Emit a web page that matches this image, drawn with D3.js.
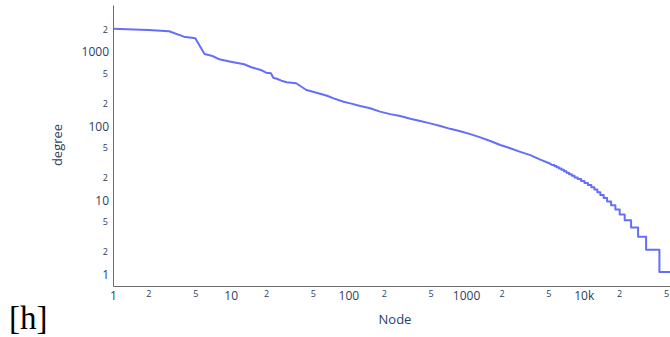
<!DOCTYPE html>
<html>
<head>
<meta charset="utf-8">
<script src="https://cdn.jsdelivr.net/npm/d3@7"></script>
<style>
  html, body { margin: 0; padding: 0; background: #fff; }
  svg { display: block; }
</style>
</head>
<body>
<svg id="chart" width="670" height="337"></svg>
<script>
// ---- data (rank of node, degree) ----
const headRanks   = [1, 2, 3, 4, 5, 6, 7, 8, 10, 13, 15, 18, 20, 22, 23, 25, 27, 30, 36, 44, 50, 66, 75, 91, 104, 126, 153, 186, 227, 276, 336, 408, 496, 604, 734, 893, 1086, 1321, 1607, 1954, 2377, 2891, 3516, 4276, 5200];
const headDegrees = [1940, 1865, 1790, 1513, 1439, 883, 830, 749, 695, 641, 584, 537, 493, 484, 422, 405, 385, 366, 355, 288, 273, 241, 222, 200, 190, 175, 163, 147, 136, 128, 118, 110, 102, 94, 86, 80, 73, 66, 59, 52, 47, 42, 38, 33, 29];
// tail staircase: integer degree and the first rank that has it
const tailDegrees   = [28, 27, 26, 25, 24, 23, 22, 21, 20, 19, 18, 17, 16, 15, 14, 13, 12, 11, 10, 9, 8, 7, 6, 5, 4, 3, 2, 1];
const tailFirstRank = [5370, 5620, 5870, 6150, 6470, 6790, 7130, 7500, 7910, 8350, 8870, 9500, 10150, 10850, 11600, 12310, 13050, 13840, 14770, 15790, 17070, 18570, 20200, 22280, 25250, 28950, 33870, 43950];
const totalNodes = 62000;

const xMajorTicks = [1, 10, 100, 1000, 10000];
const xMajorLabels = ["1", "10", "100", "1000", "10k"];
const xMinorTicks = [2, 5, 20, 50, 200, 500, 2000, 5000, 20000, 50000];
const yMajorTicks = [1, 10, 100, 1000];
const yMajorLabels = ["1", "10", "100", "1000"];
const yMinorTicks = [2, 5, 20, 50, 200, 500, 2000];

// ---- build points ----
const points = headRanks.map((r, i) => [r, headDegrees[i]]);
tailDegrees.forEach((d, i) => {
  const first = tailFirstRank[i];
  const last = i < tailDegrees.length - 1 ? tailFirstRank[i + 1] - 1 : totalNodes;
  points.push([first, d]);
  points.push([last, d]);
});

// ---- layout ----
const plotLeft = 113, plotRight = 677, plotTop = 5, plotBottom = 286;
const svg = d3.select("#chart");
const textColor = "#2a3f5f";
const font = "'Open Sans', Verdana, Arial, sans-serif";

const x = d3.scaleLog().domain([1, totalNodes]).range([plotLeft, plotRight]);
const y = d3.scaleLog().domain([Math.pow(10, -0.189), Math.pow(10, 3.608)]).range([plotBottom, plotTop]);

svg.append("clipPath").attr("id", "plotclip")
  .append("rect").attr("x", plotLeft).attr("y", plotTop)
  .attr("width", plotRight - plotLeft).attr("height", plotBottom - plotTop);

// line
const line = d3.line().x(d => x(d[0])).y(d => y(d[1]));
svg.append("path")
  .datum(points)
  .attr("clip-path", "url(#plotclip)")
  .attr("d", line)
  .attr("fill", "none")
  .attr("stroke", "#636efa")
  .attr("stroke-width", 2)
  .attr("stroke-linejoin", "round");

// axes (lines, no tick marks)
const gx = svg.append("g").attr("transform", `translate(0,${plotBottom})`)
  .call(d3.axisBottom(x).tickValues(xMajorTicks).tickFormat((d, i) => xMajorLabels[i]).tickSize(0).tickPadding(5));
gx.select(".domain").attr("stroke", "#6b6b6b").attr("stroke-width", 1);
gx.selectAll("text").attr("fill", textColor).style("font-family", font).style("font-size", "12px");

const gxm = svg.append("g").attr("transform", `translate(0,${plotBottom})`)
  .call(d3.axisBottom(x).tickValues(xMinorTicks).tickFormat(d => String(d).charAt(0)).tickSize(0).tickPadding(5));
gxm.select(".domain").remove();
gxm.selectAll("text").attr("fill", textColor).style("font-family", font).style("font-size", "9px");

const gy = svg.append("g").attr("transform", `translate(${plotLeft},0)`)
  .call(d3.axisLeft(y).tickValues(yMajorTicks).tickFormat((d, i) => yMajorLabels[i]).tickSize(0).tickPadding(4));
gy.select(".domain").attr("stroke", "#6b6b6b").attr("stroke-width", 1);
gy.selectAll("text").attr("fill", textColor).style("font-family", font).style("font-size", "12px").attr("dy", "0.5em");

const gym = svg.append("g").attr("transform", `translate(${plotLeft},0)`)
  .call(d3.axisLeft(y).tickValues(yMinorTicks).tickFormat(d => String(d).charAt(0)).tickSize(0).tickPadding(5));
gym.select(".domain").remove();
gym.selectAll("text").attr("fill", textColor).style("font-family", font).style("font-size", "9px").attr("dy", "0.5em");

// axis titles
svg.append("text")
  .attr("x", 395).attr("y", 324)
  .attr("text-anchor", "middle")
  .attr("fill", textColor)
  .style("font-family", font).style("font-size", "13px")
  .text("Node");

svg.append("text")
  .attr("transform", "translate(62,145) rotate(-90)")
  .attr("text-anchor", "middle")
  .attr("fill", textColor)
  .style("font-family", font).style("font-size", "13px")
  .text("degree");

// stray LaTeX float marker
svg.append("text")
  .attr("x", 9).attr("y", 329)
  .attr("fill", "#000")
  .style("font-family", "'Liberation Serif', 'DejaVu Serif', serif")
  .style("font-size", "33px")
  .text("[h]");
</script>
</body>
</html>
